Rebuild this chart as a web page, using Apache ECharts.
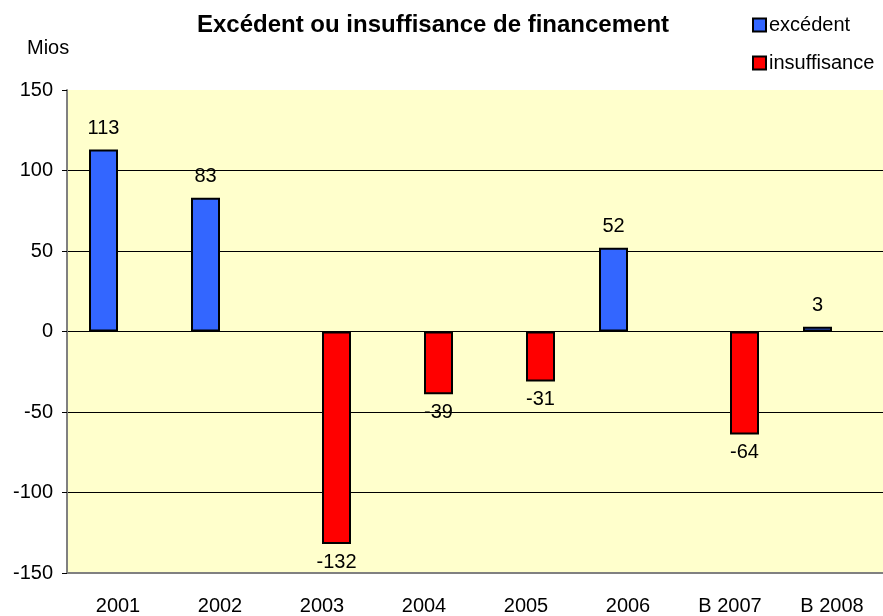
<!DOCTYPE html>
<html>
<head>
<meta charset="utf-8">
<script src="https://cdn.jsdelivr.net/npm/echarts@6/dist/echarts.min.js"></script>
<style>html,body{margin:0;padding:0;background:#fff}#c{width:883px;height:616px}</style>
</head>
<body>
<div id="c"></div>
<script>
const categories = ['2001','2002','2003','2004','2005','2006','B 2007','B 2008'];
const excedent = [113, 83, null, null, null, 52, null, 3];
const insuffisance = [null, null, -132, -39, -31, null, -64, null];
const yMin = -150, yMax = 150, yStep = 50;

const chart = echarts.init(document.getElementById('c'));
const font = 'Liberation Sans, Arial, sans-serif';
const lbl = {show: true, color: '#000', fontFamily: font, fontSize: 20};
chart.setOption({
  animation: false,
  title: {text: 'Excédent ou insuffisance de financement', left: 428, textAlign: 'center', top: 8,
    textStyle: {fontFamily: font, fontSize: 24, fontWeight: 'bold', color: '#000'}},
  graphic: [{type: 'text', left: 27, top: 38, style: {text: 'Mios', font: '20px ' + font, fill: '#000'}}],
  legend: {orient: 'vertical', left: 747, top: 10, itemGap: 18, itemWidth: 13, itemHeight: 13,
    icon: 'rect', itemStyle: {borderColor: '#000', borderWidth: 2},
    textStyle: {fontFamily: font, fontSize: 20, color: '#000', padding: [0,0,0,-2]},
    data: ['excédent', 'insuffisance']},
  grid: {left: 67, right: -7, top: 90, bottom: 43, show: true, backgroundColor: '#FFFFCC', borderWidth: 0},
  xAxis: {type: 'category', data: categories,
    axisLine: {onZero: false, lineStyle: {color: '#808080', width: 2}},
    axisTick: {show: false},
    axisLabel: {color: '#000', fontFamily: font, fontSize: 20, margin: 23}},
  yAxis: {type: 'value', min: yMin, max: yMax, interval: yStep,
    axisLine: {show: true, lineStyle: {color: '#808080', width: 2}},
    axisTick: {show: true, length: 5, lineStyle: {color: '#000'}},
    axisLabel: {color: '#000', fontFamily: font, fontSize: 20, margin: 14},
    splitLine: {show: true, lineStyle: {color: ['#808080','#000','#000','#000','#000','#000','transparent'], width: 1}}},
  series: [
    {name: 'excédent', type: 'bar', data: excedent, barWidth: 29, barGap: '0%',
      itemStyle: {color: '#3366FF', borderColor: '#000', borderWidth: 2},
      label: Object.assign({position: 'top', distance: 11}, lbl)},
    {name: 'insuffisance', type: 'bar', data: insuffisance, barWidth: 29,
      itemStyle: {color: '#FF0000', borderColor: '#000', borderWidth: 2},
      label: Object.assign({position: 'bottom', distance: 8}, lbl)}
  ]
});
</script>
</body>
</html>
